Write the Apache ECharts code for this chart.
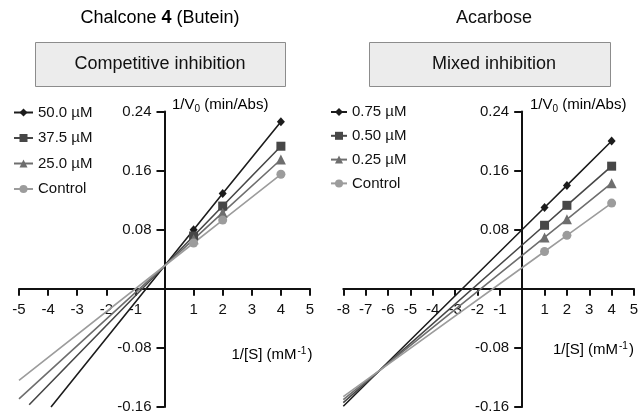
<!DOCTYPE html>
<html>
<head>
<meta charset="utf-8">
<script src="https://cdn.jsdelivr.net/npm/echarts@6/dist/echarts.min.js"></script>
<style>
  html, body { margin: 0; padding: 0; background: #fff; }
  #main { width: 638px; height: 414px; }
</style>
</head>
<body>
<div id="main"></div>
<script>
// data
var leftNames = ['50.0 µM', '37.5 µM', '25.0 µM', 'Control'];
var rightNames = ['0.75 µM', '0.50 µM', '0.25 µM', 'Control'];
var substrateX = [1, 2, 4];
var leftValues = [
    [0.080, 0.129, 0.226],
    [0.0715, 0.112, 0.193],
    [0.067, 0.103, 0.175],
    [0.062, 0.093, 0.155]
];
// where the extrapolated fit lines begin on the left
var leftLineStart = [[-3.9, -0.16], [-4.65, -0.157], [-5, -0.149], [-5, -0.124]];
var rightValues = [
    [0.110, 0.140, 0.200],
    [0.086, 0.113, 0.166],
    [0.0696, 0.094, 0.143],
    [0.0505, 0.0724, 0.116]
];
var rightLineStart = [[-8, -0.159], [-8, -0.154], [-8, -0.150], [-8, -0.146]];
var leftXRange = [-5, 5];
var rightXRange = [-8, 5];
var yTicks = [-0.16, -0.08, 0, 0.08, 0.16, 0.24];

var colors = ['#1c1c1c', '#474747', '#6e6e6e', '#9c9c9c'];
var symbols = ['diamond', 'rect', 'triangle', 'circle'];
var symbolSizes = [[8, 9], 9, 10, 9];
var font = 'Liberation Sans, Arial, sans-serif';

var grids = [
    { left: 19, top: 111.5, width: 291, height: 295.5, outerBoundsMode: 'none' },
    { left: 343.3, top: 111.5, width: 290.7, height: 295.5, outerBoundsMode: 'none' }
];

var myChart = echarts.init(document.getElementById('main'));

// axes cross at zero: shift them in from the grid edges
function xAxis(idx, range) {
    var yMin = yTicks[0], yMax = yTicks[yTicks.length - 1];
    var off = -grids[idx].height * (0 - yMin) / (yMax - yMin);
    return {
        type: 'value', gridIndex: idx, min: range[0], max: range[1], interval: 1,
        position: 'bottom', offset: off,
        axisLine: { onZero: false, lineStyle: { color: '#111', width: 2 } },
        axisTick: { length: 7, lineStyle: { color: '#111', width: 2 } },
        axisLabel: {
            margin: 14, color: '#111', fontSize: 15, fontFamily: font,
            formatter: function (v) { return v === 0 ? '' : String(v); }
        },
        splitLine: { show: false }
    };
}
function yAxis(idx, range) {
    var off = -grids[idx].width * (0 - range[0]) / (range[1] - range[0]);
    return {
        type: 'value', gridIndex: idx,
        min: yTicks[0], max: yTicks[yTicks.length - 1], interval: 0.08,
        position: 'left', offset: off,
        axisLine: { show: true, onZero: false, lineStyle: { color: '#111', width: 2 } },
        axisTick: { show: true, length: 8, lineStyle: { color: '#111', width: 2 } },
        axisLabel: {
            margin: 13, color: '#111', fontSize: 15, fontFamily: font,
            formatter: function (v) { return Math.abs(v) < 1e-9 ? '' : v.toFixed(2); }
        },
        splitLine: { show: false }
    };
}

function buildSeries(names, values, starts, idx) {
    return names.map(function (name, i) {
        var pts = [{ value: starts[i], symbol: 'none' }];
        substrateX.forEach(function (x, j) { pts.push([x, values[i][j]]); });
        return {
            name: name, type: 'line', xAxisIndex: idx, yAxisIndex: idx,
            data: pts, symbol: symbols[i], symbolSize: symbolSizes[i],
            showSymbol: true, clip: false, animation: false,
            itemStyle: { color: colors[i] },
            lineStyle: { color: colors[i], width: 1.6 }
        };
    });
}

var txt = { fontFamily: font, fill: '#111' };
var axisNameRich = {
    a: { fontSize: 15, fontFamily: font, color: '#111' },
    s: { fontSize: 10, fontFamily: font, color: '#111', padding: [8, 0, 0, 0] },
    p: { fontSize: 10, fontFamily: font, color: '#111', padding: [0, 1, 8, 1] }
};

var option = {
    animation: false,
    grid: grids,
    xAxis: [xAxis(0, leftXRange), xAxis(1, rightXRange)],
    yAxis: [yAxis(0, leftXRange), yAxis(1, rightXRange)],
    legend: [
        {
            data: leftNames, orient: 'vertical', left: 13, top: 104.5, padding: 0,
            itemWidth: 19, itemHeight: 10, itemGap: 9.5,
            textStyle: { fontSize: 15, fontFamily: font, color: '#111', lineHeight: 16 }
        },
        {
            data: rightNames, orient: 'vertical', left: 330, top: 104, padding: 0,
            itemWidth: 16, itemHeight: 10, itemGap: 7.8,
            textStyle: { fontSize: 15, fontFamily: font, color: '#111', lineHeight: 16 }
        }
    ],
    series: buildSeries(leftNames, leftValues, leftLineStart, 0)
        .concat(buildSeries(rightNames, rightValues, rightLineStart, 1)),
    graphic: [
        {
            type: 'text', x: 160, y: 18,
            style: {
                text: '{a|Chalcone }{b|4}{a| (Butein)}', align: 'center', verticalAlign: 'middle',
                rich: { a: { fontSize: 18, fontFamily: font, color: '#111' },
                        b: { fontSize: 18, fontFamily: font, fontWeight: 'bold', color: '#111' } }
            }
        },
        {
            type: 'text', x: 494, y: 18,
            style: Object.assign({ text: 'Acarbose', fontSize: 18, align: 'center', verticalAlign: 'middle' }, txt)
        },
        {
            type: 'rect', shape: { x: 35.5, y: 42.5, width: 250, height: 44 },
            style: { fill: '#ececec', stroke: '#8c8c8c', lineWidth: 1 }
        },
        {
            type: 'rect', shape: { x: 369.5, y: 42.5, width: 241, height: 44 },
            style: { fill: '#ececec', stroke: '#8c8c8c', lineWidth: 1 }
        },
        {
            type: 'text', x: 160, y: 64.5,
            style: Object.assign({ text: 'Competitive inhibition', fontSize: 18, align: 'center', verticalAlign: 'middle' }, txt)
        },
        {
            type: 'text', x: 494, y: 64.5,
            style: Object.assign({ text: 'Mixed inhibition', fontSize: 18, align: 'center', verticalAlign: 'middle' }, txt)
        },
        {
            type: 'text', x: 172, y: 105,
            style: { text: '{a|1/V}{s|0}{a| (min/Abs)}', verticalAlign: 'middle', rich: axisNameRich }
        },
        {
            type: 'text', x: 530, y: 105,
            style: { text: '{a|1/V}{s|0}{a| (min/Abs)}', verticalAlign: 'middle', rich: axisNameRich }
        },
        {
            type: 'text', x: 231.5, y: 355,
            style: { text: '{a|1/[S] (mM}{p|-1}{a|)}', verticalAlign: 'middle', rich: axisNameRich }
        },
        {
            type: 'text', x: 553, y: 350,
            style: { text: '{a|1/[S] (mM}{p|-1}{a|)}', verticalAlign: 'middle', rich: axisNameRich }
        }
    ]
};

myChart.setOption(option);
</script>
</body>
</html>
